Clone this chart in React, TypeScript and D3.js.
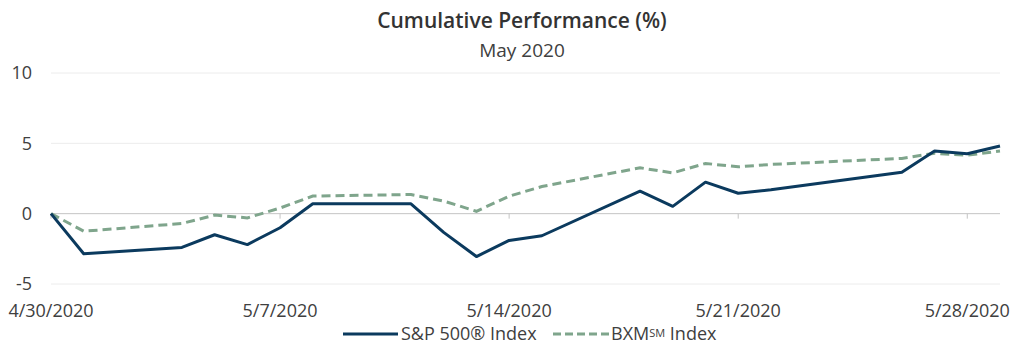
import React from "react";
import * as d3 from "d3";

const dates = ["2020-04-30","2020-05-01","2020-05-04","2020-05-05","2020-05-06","2020-05-07","2020-05-08","2020-05-11","2020-05-12","2020-05-13","2020-05-14","2020-05-15","2020-05-18","2020-05-19","2020-05-20","2020-05-21","2020-05-22","2020-05-26","2020-05-27","2020-05-28","2020-05-29"];
const spValues = [0,-2.85,-2.4,-1.5,-2.2,-1.0,0.7,0.7,-1.33,-3.05,-1.9,-1.57,1.6,0.52,2.24,1.45,1.7,2.95,4.45,4.26,4.81];
const bxmValues = [0,-1.25,-0.7,-0.1,-0.3,0.4,1.25,1.36,0.9,0.17,1.24,1.93,3.26,2.9,3.57,3.33,3.5,3.93,4.29,4.16,4.45];
const xTickDates = ["2020-04-30","2020-05-07","2020-05-14","2020-05-21","2020-05-28"];
const yTicks = [-5, 0, 5, 10];

const W = 1024, H = 354;
const FONT = "'Open Sans', 'Noto Sans', sans-serif";
const SP_COLOR = "#0b3a5e";
const BXM_COLOR = "#7fa58c";

const parse = d3.timeParse("%Y-%m-%d");
const fmt = d3.timeFormat("%-m/%-d/%Y");

export default function App() {
  const x = d3.scaleTime().domain([parse(dates[0])!, parse(dates[dates.length - 1])!]).range([51, 1000]);
  const y = d3.scaleLinear().domain([-5, 10]).range([284, 73]);
  const pts = dates.map((d) => parse(d)!);
  const line = d3.line<[Date, number]>().x((d) => x(d[0])).y((d) => y(d[1]));
  const spPath = line(pts.map((d, i) => [d, spValues[i]]))!;
  const bxmPath = line(pts.map((d, i) => [d, bxmValues[i]]))!;
  const [x0, x1] = x.range();

  return (
    <svg width={W} height={H} style={{ position: "absolute", left: 0, top: 0, background: "#fff" }} fontFamily={FONT}>
      <text x={522} y={28} textAnchor="middle" fontSize={21} fontWeight={600} fill="#333333">Cumulative Performance (%)</text>
      <text x={522} y={57} textAnchor="middle" fontSize={19} fill="#404040">May 2020</text>

      {yTicks.map((t) => (
        <g key={t}>
          {t !== 0 && <line x1={x0} x2={x1} y1={y(t)} y2={y(t)} stroke="#ececec" strokeWidth={1} />}
          <text x={32} y={y(t)} dy="0.35em" textAnchor="end" fontSize={18} fill="#404040">{t}</text>
        </g>
      ))}
      <line x1={x0} x2={x1} y1={y(0)} y2={y(0)} stroke="#c4c4c4" strokeWidth={1} />
      {xTickDates.map((d) => {
        const px = x(parse(d)!);
        return (
          <g key={d}>
            <line x1={px} x2={px} y1={y(0)} y2={y(0) + 5} stroke="#c4c4c4" strokeWidth={1} />
            <text x={px} y={317} textAnchor="middle" fontSize={18} fill="#404040">{fmt(parse(d)!)}</text>
          </g>
        );
      })}

      <path d={bxmPath} fill="none" stroke={BXM_COLOR} strokeWidth={3} strokeDasharray="9 5" />
      <path d={spPath} fill="none" stroke={SP_COLOR} strokeWidth={3} strokeLinejoin="round" />

      <g>
        <line x1={343} x2={398} y1={334} y2={334} stroke={SP_COLOR} strokeWidth={3} />
        <text x={401} y={340} fontSize={18} fill="#404040">S&amp;P 500® Index</text>
        <line x1={553} x2={609} y1={334} y2={334} stroke={BXM_COLOR} strokeWidth={3} strokeDasharray="8 4" />
        <text x={611} y={340} fontSize={18} fill="#404040">BXM<tspan fontSize={11} dy={-3}>SM</tspan><tspan dy={3}> Index</tspan></text>
      </g>
    </svg>
  );
}
